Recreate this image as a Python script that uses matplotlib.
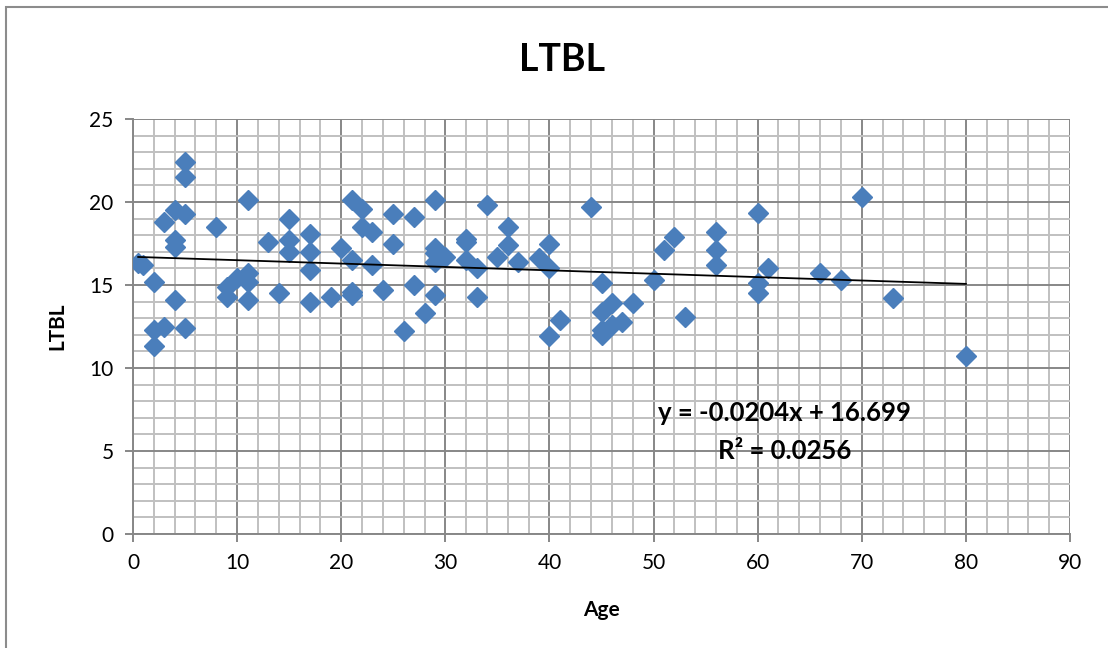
import matplotlib
matplotlib.use("Agg")
import matplotlib.pyplot as plt
from matplotlib.ticker import MultipleLocator
from matplotlib.patches import Rectangle
import numpy as np

# ---- data ----
age = [0.5, 1, 2, 2, 2, 3, 3, 4, 4, 4, 4, 5, 5, 5, 5, 8, 9, 9, 10, 11, 11, 11, 11,
       13, 14, 15, 15, 15, 17, 17, 17, 17, 19, 20, 21, 21, 21, 21, 22, 22, 23, 23,
       24, 25, 25, 26, 27, 27, 28, 29, 29, 29, 29, 29, 30, 32, 32, 32, 33, 33, 34,
       35, 36, 36, 37, 39, 40, 40, 40, 41, 44, 45, 45, 45, 45, 46, 46, 47, 48, 50,
       51, 52, 53, 56, 56, 56, 60, 60, 60, 61, 66, 68, 70, 73, 80]
ltbl = [16.3, 16.2, 15.2, 12.3, 11.3, 18.8, 12.5, 19.5, 17.7, 17.3, 14.1, 22.4, 21.5,
        19.3, 12.4, 18.5, 14.9, 14.3, 15.4, 20.1, 15.7, 15.2, 14.1, 17.6, 14.5, 19.0,
        17.7, 17.0, 18.1, 17.0, 15.9, 14.0, 14.3, 17.2, 20.1, 16.5, 14.6, 14.4, 19.6,
        18.5, 18.2, 16.2, 14.7, 19.3, 17.5, 12.2, 19.1, 15.0, 13.3, 20.1, 17.2, 16.9,
        16.4, 14.4, 16.7, 17.8, 17.6, 16.5, 16.0, 14.3, 19.8, 16.7, 18.5, 17.4, 16.4,
        16.6, 17.5, 16.0, 11.9, 12.9, 19.7, 15.1, 13.4, 12.3, 12.0, 13.9, 12.6, 12.8,
        13.9, 15.3, 17.1, 17.9, 13.1, 18.2, 17.1, 16.2, 19.35, 15.1, 14.5, 16.0, 15.7,
        15.3, 20.3, 14.2, 10.7]
slope = -0.0204
intercept = 16.699
r2 = 0.0256
x_ticks = [0, 10, 20, 30, 40, 50, 60, 70, 80, 90]
y_ticks = [0, 5, 10, 15, 20, 25]
title = "LTBL"
xlabel = "Age"
ylabel = "LTBL"

FONT = ["Lato", "DejaVu Sans"]
plt.rcParams["font.family"] = FONT

fig = plt.figure(figsize=(11.08, 6.48), dpi=100)
ax = fig.add_axes([133/1108, 1 - 534/648, (1070-133)/1108, (534-119)/648])

# outer chart border
fig.patches.append(Rectangle((6/1108, -0.05), 1.2, 1 - 7/648 + 0.05,
                             transform=fig.transFigure, fill=False,
                             edgecolor="#8c8c8c", linewidth=1.5))

ax.set_xlim(x_ticks[0], x_ticks[-1])
ax.set_ylim(y_ticks[0], y_ticks[-1])
ax.set_xticks(x_ticks)
ax.set_yticks(y_ticks)
ax.xaxis.set_minor_locator(MultipleLocator(2))
ax.yaxis.set_minor_locator(MultipleLocator(1))
ax.grid(which="minor", color="#c0c0c0", linewidth=1.4, zorder=0)
ax.grid(which="major", color="#878787", linewidth=1.4, zorder=0.5)
ax.set_axisbelow(True)

for s in ["top", "right"]:
    ax.spines[s].set_visible(False)
for s in ["left", "bottom"]:
    ax.spines[s].set_color("#878787")
    ax.spines[s].set_linewidth(1.4)

ax.tick_params(which="major", length=6, width=1.4, color="#878787",
               labelsize=15, labelcolor="black", pad=8)
ax.tick_params(which="minor", length=0)

ax.plot(age, ltbl, linestyle="none", marker="D", markersize=10,
        color="#4a7ebb", markeredgecolor="#4a7ebb", zorder=3)

xs = np.array([min(age), max(age)])
ax.plot(xs, slope * xs + intercept, color="black", linewidth=1.3, zorder=4)

ax.text(62.6, 7.3, f"y = {slope}x + {intercept}", ha="center", va="center",
        fontsize=18.5, fontweight="bold", zorder=5)
ax.text(62.6, 5.0, f"R² = {r2}", ha="center", va="center",
        fontsize=18.5, fontweight="bold", zorder=5)

fig.text(562/1108, 1 - 60/648, title, ha="center", va="center",
         fontsize=27, fontweight="bold")
ax.set_xlabel(xlabel, fontsize=15, fontweight="bold", labelpad=19)
ax.set_ylabel(ylabel, fontsize=15, fontweight="bold", labelpad=16)

fig.savefig("out.png", dpi=100)
